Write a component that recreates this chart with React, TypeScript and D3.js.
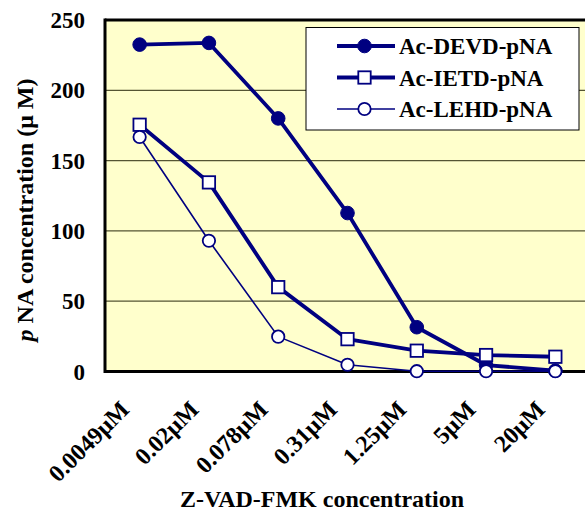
import React from "react";
import * as d3 from "d3";

const categories = ["0.0049μM", "0.02μM", "0.078μM", "0.31μM", "1.25μM", "5μM", "20μM"];
const devd = [232.5, 233.7, 180, 112.7, 31.5, 4.6, 0.6];
const ietd = [175.5, 134.5, 60, 23, 14.8, 11.7, 10.5];
const lehd = [166.8, 93, 24.8, 4.8, 0.2, 0.2, 0.2];
const yTicks = [0, 50, 100, 150, 200, 250];

const seriesNames = ["Ac-DEVD-pNA", "Ac-IETD-pNA", "Ac-LEHD-pNA"];

const W = 585, H = 513;
const M = { left: 105, top: 20, right: 590, bottom: 371.5 };
const NAVY = "#000080";
const FONT = "'Liberation Serif', 'Times New Roman', serif";

export default function App() {
  const x = d3.scaleBand<string>().domain(categories).range([M.left, M.right]);
  const y = d3.scaleLinear().domain([0, 250]).range([M.bottom, M.top]);
  const cx = (c: string) => (x(c) as number) + x.bandwidth() / 2;
  const line = d3.line<number>().x((_, i) => cx(categories[i])).y((d) => y(d));

  const series = [
    { name: seriesNames[0], data: devd, width: 3.8, marker: "filled" },
    { name: seriesNames[1], data: ietd, width: 3.8, marker: "square" },
    { name: seriesNames[2], data: lehd, width: 1.6, marker: "open" },
  ];

  const marker = (kind: string, px: number, py: number, key: string) => {
    if (kind === "filled") return <circle key={key} cx={px} cy={py} r={6.8} fill={NAVY} stroke={NAVY} strokeWidth={1} />;
    if (kind === "square") return <rect key={key} x={px - 6.2} y={py - 6.2} width={12.4} height={12.4} fill="#fff" stroke={NAVY} strokeWidth={1.8} />;
    return <circle key={key} cx={px} cy={py} r={6.2} fill="#fff" stroke={NAVY} strokeWidth={1.8} />;
  };

  return (
    <svg width={W} height={H} style={{ position: "absolute", left: 0, top: 0, background: "#fff" }} fontFamily={FONT}>
      <rect x={M.left} y={M.top} width={M.right - M.left} height={M.bottom - M.top} fill="#FFFFCC" />
      {yTicks.filter((t) => t > 0 && t < 250).map((t) => (
        <line key={t} x1={M.left} x2={M.right} y1={y(t)} y2={y(t)} stroke="#555533" strokeWidth={1.2} />
      ))}
      <line x1={M.left} x2={M.right} y1={M.top} y2={M.top} stroke="#000" strokeWidth={3} />
      <line x1={M.left} x2={M.left} y1={M.top - 1.5} y2={M.bottom + 1.5} stroke="#000" strokeWidth={3} />
      <line x1={M.left} x2={M.right} y1={M.bottom} y2={M.bottom} stroke="#000" strokeWidth={3} />

      {series.map((s) => (
        <path key={s.name} d={line(s.data) || ""} fill="none" stroke={NAVY} strokeWidth={s.width} strokeLinejoin="round" />
      ))}
      {series.map((s) => s.data.map((v, i) => marker(s.marker, cx(categories[i]), y(v), s.name + i)))}

      {yTicks.map((t) => (
        <text key={t} x={85} y={y(t)} dy="0.35em" textAnchor="end" fontSize={23} fontWeight="bold">{t}</text>
      ))}
      <text transform={`translate(33,210) rotate(-90)`} textAnchor="middle" fontSize={24} fontWeight="bold">
        <tspan fontStyle="italic">p</tspan> NA concentration (μ M)
      </text>

      {categories.map((c) => (
        <text key={c} transform={`translate(${cx(c) - 9},${M.bottom + 39.5}) rotate(-45)`} textAnchor="end" fontSize={24} fontWeight="bold">{c}</text>
      ))}
      <text x={322} y={507} textAnchor="middle" fontSize={24} fontWeight="bold">Z-VAD-FMK concentration</text>

      <rect x={306} y={27.5} width={273} height={102.5} fill="#fff" stroke="#000" strokeWidth={1} />
      {series.map((s, i) => {
        const ly = 46 + i * 31.5;
        return (
          <g key={s.name}>
            <line x1={337} x2={395} y1={ly} y2={ly} stroke={NAVY} strokeWidth={s.width} />
            {marker(s.marker, 364.5, ly, "lg" + i)}
            <text x={399} y={ly} dy="0.35em" fontSize={23} fontWeight="bold">{s.name}</text>
          </g>
        );
      })}
    </svg>
  );
}
